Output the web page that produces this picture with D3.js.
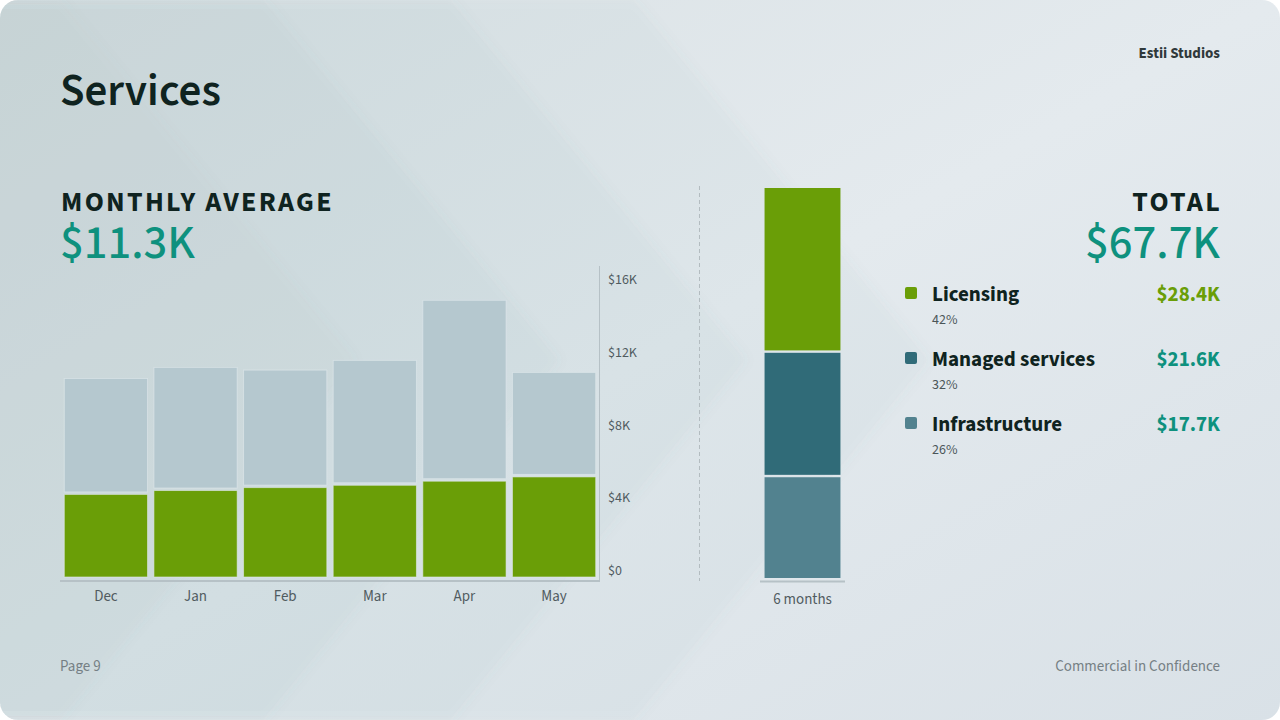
<!DOCTYPE html>
<html><head><meta charset="utf-8">
<script src="https://cdn.jsdelivr.net/npm/d3@7"></script>
<style>
html,body{margin:0;padding:0;background:#fff;}
svg{display:block;font-family:"Source Sans 3","Source Sans Pro",Lato,sans-serif;}
</style></head>
<body>
<svg id="c" width="1280" height="720"></svg>
<script>
// ---- data ----
const months = ["Dec","Jan","Feb","Mar","Apr","May"];
const licensing = [4300, 4500, 4650, 4770, 4980, 5200];
const otherServices = [5940, 6310, 6020, 6400, 9280, 5350];
const yTicks = [0, 4000, 8000, 12000, 16000];
const yTickLabels = ["$0","$4K","$8K","$12K","$16K"];
const totalCategories = ["Infrastructure","Managed services","Licensing"];
const totalValues = [17700, 21600, 28400];
const totalPercents = ["26%","32%","42%"];
const totalLabels = ["$17.7K","$21.6K","$28.4K"];
const monthlyAverageLabel = "$11.3K";
const totalLabel = "$67.7K";

const C = {lic:"#6a9e07", other:"#b5c8cf", managed:"#306b78", infra:"#52828f",
  teal:"#0e917e", dark:"#0f2320", axis:"#505b5f", line:"#b6c1c6"};

const svg = d3.select("#c");
const defs = svg.append("defs");
const bg = defs.append("linearGradient").attr("id","bg").attr("x1","0").attr("y1","0").attr("x2","1").attr("y2","1");
bg.append("stop").attr("offset","0").attr("stop-color","#d9e1e4");
bg.append("stop").attr("offset","0.5").attr("stop-color","#e4eaee");
bg.append("stop").attr("offset","1").attr("stop-color","#d9e1e7");
const blur = defs.append("filter").attr("id","sh").attr("x","-20%").attr("y","-20%").attr("width","140%").attr("height","140%");
blur.append("feGaussianBlur").attr("stdDeviation","6");
defs.append("clipPath").attr("id","card").append("rect").attr("width",1280).attr("height",720).attr("rx",18);

const card = svg.append("g").attr("clip-path","url(#card)");
card.append("rect").attr("width",1280).attr("height",720).attr("fill","url(#bg)");
// chevrons in background
const chevronTips = [354, 558, 745, 928];
const chev = tip => `M-400,0 L${tip-295},0 L${tip},360 L${tip-295},720 L-400,720 Z`;
chevronTips.forEach((t,i) => {
  card.append("path").attr("d", chev(t+3)).attr("fill","rgba(95,115,122,0.032)").attr("filter","url(#sh)");
  card.append("path").attr("d", chev(t)).attr("fill", i===0 ? "rgba(220,228,232,0.04)" : "rgba(165,180,186,0.02)");
});

// ---- header texts ----
svg.append("text").attr("x",1220).attr("y",58).attr("text-anchor","end")
  .attr("font-size",15).attr("font-weight",700).attr("fill","#30393b").text("Estii Studios");
svg.append("text").attr("x",60).attr("y",105).attr("font-size",45).attr("font-weight",600)
  .attr("fill",C.dark).text("Services");
svg.append("text").attr("x",61).attr("y",211).attr("font-size",28).attr("font-weight",700)
  .attr("letter-spacing",2.3).attr("fill",C.dark).text("MONTHLY AVERAGE");
svg.append("text").attr("x",60).attr("y",258).attr("font-size",47).attr("font-weight",500)
  .attr("fill",C.teal).text(monthlyAverageLabel);
svg.append("text").attr("x",1222).attr("y",211).attr("text-anchor","end").attr("font-size",28)
  .attr("font-weight",700).attr("letter-spacing",2.3).attr("fill",C.dark).text("TOTAL");
svg.append("text").attr("x",1220).attr("y",258).attr("text-anchor","end").attr("font-size",47)
  .attr("font-weight",500).attr("fill",C.teal).text(totalLabel);

// ---- monthly stacked chart ----
const x = d3.scaleBand().domain(months).range([62, 598]).paddingInner(0.06).paddingOuter(0.02);
const y = d3.scaleLinear().domain([0, 16000]).range([577, 266]);
const yLab = d3.scaleLinear().domain([0, 16000]).range([575, 284]);
const rows = months.map((m,i) => ({m, lic: licensing[i], other: otherServices[i]}));
const stack = d3.stack().keys(["lic","other"])(rows);
const colors = {lic: C.lic, other: C.other};
const gBars = svg.append("g");
stack.forEach(layer => {
  gBars.selectAll(null).data(layer).join("rect")
    .attr("x", d => x(d.data.m) + 0.5)
    .attr("width", x.bandwidth() - 1)
    .attr("y", d => y(d[1]) + (layer.key==="lic" ? 1 : 0.5))
    .attr("height", d => y(d[0]) - y(d[1]) - (layer.key==="lic" ? 1 : 2))
    .attr("fill", colors[layer.key])
    .attr("stroke","rgba(225,233,236,0.6)").attr("stroke-width",1);
});
// axis lines
svg.append("line").attr("x1",599.5).attr("x2",599.5).attr("y1",266).attr("y2",581).attr("stroke",C.line).attr("stroke-width",1);
svg.append("line").attr("x1",60).attr("x2",600).attr("y1",581).attr("y2",581).attr("stroke",C.line).attr("stroke-width",2);
// y tick labels
svg.append("g").selectAll("text").data(yTicks).join("text")
  .attr("x",608).attr("y", d => yLab(d)).attr("font-size",14).attr("fill",C.axis)
  .text((d,i) => yTickLabels[i]);
// x labels
svg.append("g").selectAll("text").data(months).join("text")
  .attr("x", d => x(d) + x.bandwidth()/2).attr("y",601).attr("text-anchor","middle")
  .attr("font-size",15).attr("fill",C.axis).text(d => d);

// separator
svg.append("line").attr("x1",699.5).attr("x2",699.5).attr("y1",186).attr("y2",581)
  .attr("stroke","#b3bcc0").attr("stroke-width",1).attr("stroke-dasharray","4,3");

// ---- total stacked bar ----
const yT = d3.scaleLinear().domain([0, d3.sum(totalValues)]).range([578, 188]);
const xT = d3.scaleBand().domain(["6 months"]).range([760, 845]).paddingInner(0).paddingOuter(0.06);
const totalColors = [C.infra, C.managed, C.lic];
let cum = 0;
const segs = totalValues.map((v,i) => { const s = {i, y0: cum, y1: cum + v}; cum += v; return s; });
svg.append("g").selectAll("rect").data(segs).join("rect")
  .attr("x", xT("6 months")).attr("width", xT.bandwidth())
  .attr("y", d => yT(d.y1) + (d.i===2 ? 0 : 1.2))
  .attr("height", d => yT(d.y0) - yT(d.y1) - (d.i===2 ? 1.2 : 2.4) + (d.i===0 ? 1.2 : 0))
  .attr("fill", d => totalColors[d.i]);
svg.append("line").attr("x1",760).attr("x2",845).attr("y1",581.5).attr("y2",581.5).attr("stroke",C.line).attr("stroke-width",2);
svg.append("text").attr("x", xT("6 months") + xT.bandwidth()/2).attr("y",604).attr("text-anchor","middle")
  .attr("font-size",15).attr("fill",C.axis).text("6 months");

// ---- legend ----
const legendOrder = [2,1,0];
const leg = svg.append("g").selectAll("g").data(legendOrder).join("g")
  .attr("transform", (d,k) => `translate(0,${k*65})`);
leg.append("rect").attr("x",905).attr("y",287).attr("width",12).attr("height",12).attr("rx",2)
  .attr("fill", d => totalColors[d]);
leg.append("text").attr("x",932).attr("y",301).attr("font-size",21).attr("font-weight",700)
  .attr("fill",C.dark).text(d => totalCategories[d]);
leg.append("text").attr("x",1220).attr("y",301).attr("text-anchor","end").attr("font-size",21)
  .attr("font-weight",700).attr("fill", d => d===2 ? C.lic : C.teal).text(d => totalLabels[d]);
leg.append("text").attr("x",932).attr("y",324).attr("font-size",14).attr("fill","#4a5558")
  .text(d => totalPercents[d]);

// ---- footer ----
svg.append("text").attr("x",60).attr("y",671).attr("font-size",15).attr("fill","#757f84").text("Page 9");
svg.append("text").attr("x",1220).attr("y",671).attr("text-anchor","end").attr("font-size",15)
  .attr("fill","#757f84").text("Commercial in Confidence");
</script>
</body></html>
